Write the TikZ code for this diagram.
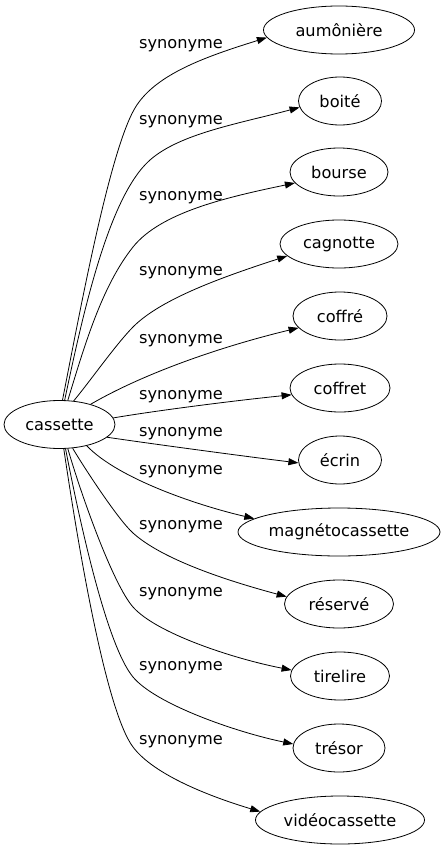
\documentclass[tikz,border=0pt]{standalone}
\usepackage{fontspec}
\setmainfont{DejaVu Sans}
\usetikzlibrary{arrows.meta,shapes.geometric}
\tikzset{
  word/.style={ellipse, draw, line width=0.8pt, inner sep=0pt, minimum height=48pt, font=\fontsize{16.2}{19}\selectfont},
  rel/.style={inner sep=0pt, font=\fontsize{16.2}{19}\selectfont},
  link/.style={line width=0.8pt, -{Triangle[length=10pt,width=7pt]}},
}
\begin{document}
\begin{tikzpicture}[x=1pt,y=-1pt]
\useasboundingbox (0,0) rectangle (445,851);
% nodes
\node[word, minimum width=111pt] (cas) at (59.5,424.5) {cassette};
\node[word, minimum width=151pt] (aum) at (339,30) {aumônière};
\node[word, minimum width=83pt]  (boi) at (340,101) {boité};
\node[word, minimum width=98pt]  (bou) at (339,172) {bourse};
\node[word, minimum width=118pt] (cag) at (339,244) {cagnotte};
\node[word, minimum width=94pt]  (cfe) at (340,316) {coffré};
\node[word, minimum width=100pt] (cft) at (340,388) {coffret};
\node[word, minimum width=83pt]  (ecr) at (340,460) {écrin};
\node[word, minimum width=202pt] (mag) at (339,532) {magnétocassette};
\node[word, minimum width=109pt] (res) at (339,604) {réservé};
\node[word, minimum width=99pt]  (tir) at (340,676) {tirelire};
\node[word, minimum width=92pt]  (tre) at (339,748) {trésor};
\node[word, minimum width=169pt] (vid) at (340,820) {vidéocassette};
% edges
\draw[link] (cas.83) .. controls (80,311) and (109.5,151) .. (135,108)
  .. controls (155.4,73.6) and (208,56) .. (aum.186);
\draw[link] (cas.78) .. controls (83,313) and (108.75,196.3) .. (150,160)
  .. controls (180,133.6) and (238,123.8) .. (boi.189);
\draw[link] (cas.71) .. controls (85,344) and (102,286) .. (133,247)
  .. controls (161,212) and (228,197) .. (bou.194);
\draw[link] (cas.59) .. controls (89.5,382) and (115.5,344.8) .. (133,327)
  .. controls (161,298.6) and (224.3,276.4) .. (cag.193);
\draw[link] (cas.33) .. controls (147,371.5) and (227,345) .. (cfe.196);
\draw[link] (cas.7) .. controls (160,410) and (240,400) .. (cft.188);
\draw[link] (cas.-15) .. controls (160,445) and (250,457) .. (ecr.184);
\draw[link] (cas.-38) .. controls (118.5,479) and (199,505.8) .. (mag.171);
\draw[link] (cas.-61) .. controls (83.4,466.4) and (118,519.6) .. (133,533)
  .. controls (162.6,559.8) and (228.5,581.1) .. (res.172);
\draw[link] (cas.-71) .. controls (82,497.5) and (113.2,584.5) .. (133,607)
  .. controls (156.1,633.25) and (232.9,658.6) .. (tir.173);
\draw[link] (cas.-76) .. controls (81,528.4) and (107.4,646.2) .. (133,677)
  .. controls (155.4,704) and (235.2,732) .. (tre.175);
\draw[link] (cas.-80) .. controls (78.6,549) and (106,711) .. (133,747)
  .. controls (154,775) and (210.5,796.7) .. (vid.174);
% labels
\node[rel] (l1) at (181,46) {synonyme};
\node[rel] (l2) at (181,122) {synonyme};
\node[rel] (l3) at (181,198) {synonyme};
\node[rel] (l4) at (181,273) {synonyme};
\node[rel] (l5) at (181,341) {synonyme};
\node[rel] (l6) at (181,397) {synonyme};
\node[rel] (l7) at (181,434) {synonyme};
\node[rel] (l8) at (181,472) {synonyme};
\node[rel] (l9) at (181,527) {synonyme};
\node[rel] (l10) at (181,594) {synonyme};
\node[rel] (l11) at (181,668) {synonyme};
\node[rel] (l12) at (181,742) {synonyme};
\end{tikzpicture}
\end{document}
